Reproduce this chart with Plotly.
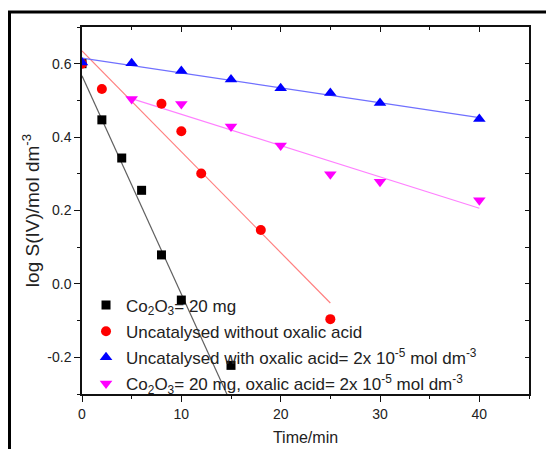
import plotly.graph_objects as go

# ---- data ----
co_x = [0, 2, 4, 6, 8, 10, 15]
co_y = [0.600, 0.447, 0.343, 0.255, 0.079, -0.044, -0.222]

unc_x = [0, 2, 8, 10, 12, 18, 25]
unc_y = [0.600, 0.531, 0.491, 0.416, 0.301, 0.147, -0.096]

uox_x = [0, 5, 10, 15, 20, 25, 30, 40]
uox_y = [0.603, 0.601, 0.580, 0.557, 0.533, 0.520, 0.493, 0.449]

cox_x = [5, 10, 15, 20, 25, 30, 40]
cox_y = [0.504, 0.490, 0.429, 0.377, 0.299, 0.278, 0.228]

# fitted straight lines (end points)
co_fit_x = [0, 15]
co_fit_y = [0.567, -0.325]
unc_fit_x = [0, 25]
unc_fit_y = [0.635, -0.052]
uox_fit_x = [0, 40]
uox_fit_y = [0.615, 0.453]
cox_fit_x = [5, 40]
cox_fit_y = [0.505, 0.206]

names = [
    "Co<sub>2</sub>O<sub>3</sub>= 20 mg",
    "Uncatalysed without oxalic acid",
    "Uncatalysed with oxalic acid= 2x 10<sup>-5</sup> mol dm<sup>-3</sup>",
    "Co<sub>2</sub>O<sub>3</sub>= 20 mg, oxalic acid= 2x 10<sup>-5</sup> mol dm<sup>-3</sup>",
]

x_ticks = [0, 10, 20, 30, 40]
y_ticks = [-0.2, 0.0, 0.2, 0.4, 0.6]
y_tick_labels = ["-0.2", "0.0", "0.2", "0.4", "0.6"]

FONT = "Arial, Liberation Sans, sans-serif"

fig = go.Figure()

fits = [
    (co_fit_x, co_fit_y, "#606060"),
    (unc_fit_x, unc_fit_y, "#ff7f7f"),
    (uox_fit_x, uox_fit_y, "#7070ff"),
    (cox_fit_x, cox_fit_y, "#ff80ff"),
]
for fx, fy, c in fits:
    fig.add_trace(go.Scatter(x=fx, y=fy, mode="lines", line=dict(color=c, width=1.2),
                             showlegend=False, hoverinfo="skip"))

series = [
    (co_x, co_y, "square", "#000000", 9),
    (unc_x, unc_y, "circle", "#ff0000", 10),
    (uox_x, uox_y, "triangle-up", "#0000ff", 11),
    (cox_x, cox_y, "triangle-down", "#ff00ff", 11),
]
for i, (sx, sy, sym, c, sz) in enumerate(series):
    fig.add_trace(go.Scatter(x=sx, y=sy, mode="markers", name=names[i],
                             legendgroup=str(i),
                             marker=dict(symbol=sym, color=c, size=sz, line=dict(width=0))))

axis_common = dict(showgrid=False, zeroline=False, linecolor="#111111", linewidth=1.5,
                   tickcolor="#111111", tickwidth=1.3, automargin=False,
                   tickfont=dict(family=FONT, size=14, color="#222222"))

fig.update_layout(
    width=554, height=449,
    margin=dict(l=74, r=33, t=19, b=63),
    paper_bgcolor="white", plot_bgcolor="white",
    font=dict(family=FONT, color="#222222"),
    xaxis=dict(range=[0, 45], tickvals=x_ticks, ticks="outside", ticklen=6,
               minor=dict(dtick=5, ticks="outside", ticklen=3, tickcolor="#111111"),
               mirror=True, showline=True,
               title=dict(text="Time/min", font=dict(family=FONT, size=16), standoff=11),
               **axis_common),
    yaxis=dict(range=[-0.3, 0.7], tickvals=y_ticks, ticktext=y_tick_labels,
               ticks="outside", ticklen=6,
               minor=dict(dtick=0.1, tick0=0, ticks="outside", ticklen=3, tickcolor="#111111"),
               mirror=True, showline=True,
               title=dict(text="log S(IV)/mol dm<sup>-3</sup>", font=dict(family=FONT, size=19), standoff=3),
               **axis_common),
    xaxis2=dict(overlaying="x", side="top", anchor="y", matches="x", range=[0, 45],
                tickvals=x_ticks, ticks="inside", ticklen=5, showticklabels=False,
                minor=dict(dtick=5, ticks="inside", ticklen=3, tickcolor="#111111"),
                showgrid=False, zeroline=False, showline=False, tickcolor="#111111", tickwidth=1.3),
    yaxis2=dict(overlaying="y", side="right", anchor="x", matches="y", range=[-0.3, 0.7],
                tickvals=y_ticks, ticks="inside", ticklen=4, showticklabels=False,
                minor=dict(dtick=0.1, tick0=0, ticks="inside", ticklen=4, tickcolor="#111111"),
                showgrid=False, zeroline=False, showline=False, tickcolor="#111111", tickwidth=1.3),
    legend=dict(x=0.009, y=0.290, xanchor="left", yanchor="top", bgcolor="rgba(0,0,0,0)",
                font=dict(family=FONT, size=17, color="#222222"),
                traceorder="grouped", tracegroupgap=1, itemwidth=30),
    showlegend=True,
)

# empty trace so the overlay (top / right) tick axes are drawn
fig.add_trace(go.Scatter(x=[], y=[], xaxis="x2", yaxis="y2", showlegend=False, hoverinfo="skip"))

# outer black frame (extends past the right and bottom edges as in the source)
fig.add_shape(type="rect", xref="paper", yref="paper",
              x0=(1.5 - 74) / 447, x1=(570 - 74) / 447,
              y0=(386 - 470) / 367, y1=(386 - 4) / 367,
              line=dict(color="black", width=3), fillcolor="rgba(0,0,0,0)", layer="above")

fig.write_html("out.html")
